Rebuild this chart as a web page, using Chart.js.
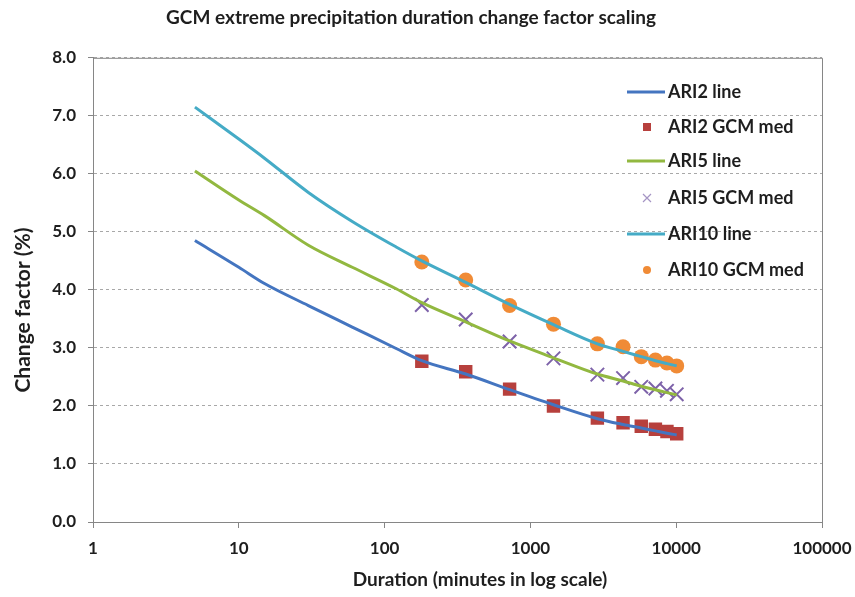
<!DOCTYPE html>
<html lang="en">
<head>
    <meta charset="UTF-8">
    <title>GCM extreme precipitation duration change factor scaling</title>
    <script src="https://cdn.jsdelivr.net/npm/chart.js"></script>
    <style>
        body { margin: 0; background: #fff; }
        #wrap { width: 855px; height: 597px; }
    </style>
</head>
<body>
<div id="wrap"><canvas id="scaleChart" width="855" height="597"></canvas></div>
<script>
// durations (minutes) for the fitted lines
const lineDurations = [5, 10, 15, 30, 60, 120, 180, 360, 720, 1440, 2880, 4320, 5760, 7200, 8640, 10080];
const ari2Line  = [4.85, 4.39, 4.11, 3.73, 3.36, 2.99, 2.78, 2.55, 2.28, 2.02, 1.78, 1.68, 1.62, 1.57, 1.53, 1.50];
const ari5Line  = [6.05, 5.55, 5.28, 4.77, 4.39, 4.02, 3.78, 3.45, 3.12, 2.83, 2.55, 2.43, 2.34, 2.28, 2.23, 2.19];
const ari10Line = [7.15, 6.60, 6.27, 5.68, 5.18, 4.74, 4.50, 4.13, 3.75, 3.40, 3.07, 2.94, 2.85, 2.78, 2.73, 2.69];

// durations (minutes) of the GCM medians
const gcmDurations = [180, 360, 720, 1440, 2880, 4320, 5760, 7200, 8640, 10080];
const ari2Gcm  = [2.77, 2.59, 2.29, 2.00, 1.79, 1.71, 1.65, 1.60, 1.56, 1.52];
const ari5Gcm  = [3.74, 3.49, 3.11, 2.82, 2.54, 2.48, 2.33, 2.30, 2.26, 2.20];
const ari10Gcm = [4.48, 4.17, 3.73, 3.41, 3.07, 3.02, 2.85, 2.79, 2.74, 2.69];

const xTicks = [1, 10, 100, 1000, 10000, 100000];
const yTicks = [0, 1, 2, 3, 4, 5, 6, 7, 8];

const xTitle = 'Duration (minutes in log scale)';
const yTitle = 'Change factor (%)';

const fontFamily = "Lato, 'Open Sans', sans-serif";
const axisGrey = '#868686';
const textColor = '#1e1e1e';

const toPoints = (xs, ys) => xs.map((x, i) => ({ x: x, y: ys[i] }));

function lineSet(label, values, color) {
  return {
    label: label,
    data: toPoints(lineDurations, values),
    showLine: true,
    borderColor: color,
    backgroundColor: color,
    borderWidth: 3,
    pointRadius: 0,
    cubicInterpolationMode: 'monotone',
    legendKind: 'line'
  };
}

function markerSet(label, values, color, style, radius) {
  return {
    label: label,
    data: toPoints(gcmDurations, values),
    showLine: false,
    pointStyle: style,
    pointRadius: radius,
    pointBackgroundColor: color,
    pointBorderColor: color,
    pointBorderWidth: style === 'crossRot' ? 2 : 0,
    borderColor: color,
    backgroundColor: color,
    legendKind: style
  };
}

// plot frame, axis titles and the legend inside the plot area
const framePlugin = {
  id: 'frame',
  beforeDatasetsDraw(chart) {
    const a = chart.chartArea, ctx = chart.ctx;
    ctx.save();
    ctx.strokeStyle = axisGrey;
    ctx.lineWidth = 1;
    ctx.beginPath();
    ctx.moveTo(a.left, a.top + 0.5);
    ctx.lineTo(a.right + 0.5, a.top + 0.5);
    ctx.lineTo(a.right + 0.5, a.bottom);
    ctx.stroke();
    ctx.restore();
  },
  afterDraw(chart) {
    const ctx = chart.ctx;
    ctx.save();
    ctx.fillStyle = textColor;
    ctx.textAlign = 'center';
    ctx.textBaseline = 'middle';
    ctx.font = 'bold 19px ' + fontFamily;
    ctx.fillText(xTitle, 480, 580);
    ctx.save();
    ctx.translate(23, 310);
    ctx.rotate(-Math.PI / 2);
    ctx.font = 'bold 21px ' + fontFamily;
    ctx.fillText(yTitle, 0, 0);
    ctx.restore();

    const rowY = [92, 127, 161, 198, 234, 270];
    ctx.textAlign = 'left';
    ctx.font = 'bold 18px ' + fontFamily;
    chart.data.datasets.forEach((ds, i) => {
      const y = rowY[i];
      const c = ds.borderColor;
      ctx.beginPath();
      if (ds.legendKind === 'line') {
        ctx.strokeStyle = c;
        ctx.lineWidth = 3;
        ctx.moveTo(627, y);
        ctx.lineTo(665, y);
        ctx.stroke();
      } else if (ds.legendKind === 'rect') {
        ctx.fillStyle = c;
        ctx.fillRect(643, y - 4, 8, 8);
      } else if (ds.legendKind === 'circle') {
        ctx.fillStyle = c;
        ctx.arc(647, y, 4, 0, Math.PI * 2);
        ctx.fill();
      } else {
        ctx.strokeStyle = '#a595c4';
        ctx.lineWidth = 1.2;
        ctx.moveTo(643, y - 4); ctx.lineTo(651, y + 4);
        ctx.moveTo(651, y - 4); ctx.lineTo(643, y + 4);
        ctx.stroke();
      }
      ctx.fillStyle = textColor;
      ctx.fillText(ds.label, 668, y);
    });
    ctx.restore();
  }
};

const ctx = document.getElementById('scaleChart');
new Chart(ctx, {
  type: 'scatter',
  data: {
    datasets: [
      lineSet('ARI2 line', ari2Line, '#4475c0'),
      markerSet('ARI2 GCM med', ari2Gcm, '#b7403d', 'rect', 9.5),
      lineSet('ARI5 line', ari5Line, '#92b840'),
      markerSet('ARI5 GCM med', ari5Gcm, '#7d62a9', 'crossRot', 9.5),
      lineSet('ARI10 line', ari10Line, '#45abc6'),
      markerSet('ARI10 GCM med', ari10Gcm, '#f08b36', 'circle', 7.5)
    ]
  },
  options: {
    responsive: false,
    animation: false,
    layout: { padding: { left: 0, right: 33, top: 0, bottom: 0 } },
    plugins: {
      legend: { display: false },
      tooltip: { enabled: false },
      title: {
        display: true,
        text: 'GCM extreme precipitation duration change factor scaling',
        color: textColor,
        font: { family: fontFamily, size: 19, weight: 'bold' },
        padding: { top: 6, bottom: 29 }
      }
    },
    scales: {
      x: {
        type: 'logarithmic',
        min: 1,
        max: 100000,
        afterBuildTicks: (scale) => { scale.ticks = xTicks.map(v => ({ value: v, major: true })); },
        afterFit: (scale) => {
          scale.height = 75;
          scale.paddingLeft = 0;
          scale.paddingRight = 0;
        },
        grid: { drawOnChartArea: false, drawTicks: true, tickLength: 6, color: axisGrey },
        border: { display: true, color: axisGrey, width: 1 },
        ticks: {
          autoSkip: false,
          maxRotation: 0,
          padding: 10,
          color: textColor,
          font: { family: fontFamily, size: 17, weight: 'bold' },
          callback: (v) => String(v)
        }
      },
      y: {
        min: 0,
        max: 8,
        afterBuildTicks: (scale) => { scale.ticks = yTicks.map(v => ({ value: v })); },
        afterFit: (scale) => { scale.width = 93; },
        grid: { color: '#a8a8a8', tickLength: 5, tickColor: axisGrey },
        border: { display: true, color: axisGrey, width: 1, dash: [3, 3] },
        ticks: {
          padding: 12,
          color: textColor,
          font: { family: fontFamily, size: 17, weight: 'bold' },
          callback: (v) => Number(v).toFixed(1)
        }
      }
    }
  },
  plugins: [framePlugin]
});
</script>
</body>
</html>
